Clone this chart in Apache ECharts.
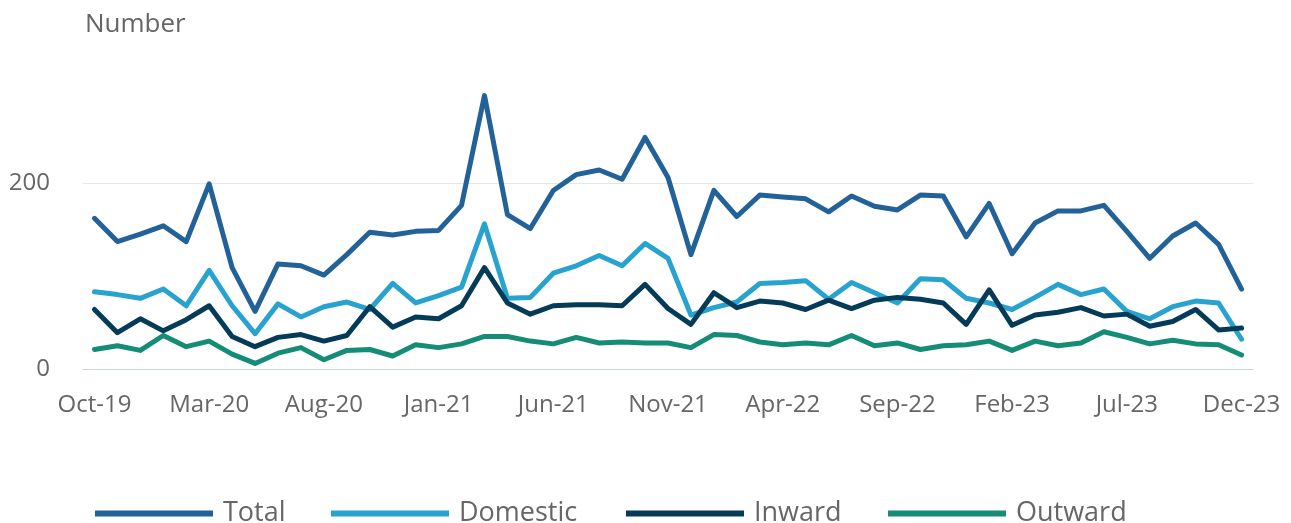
<!DOCTYPE html>
<html>
<head>
<meta charset="utf-8">
<script src="https://cdn.jsdelivr.net/npm/echarts@6/dist/echarts.min.js"></script>
<style>
html,body{margin:0;padding:0;background:#fff;}
#chart{width:1291px;height:523px;}
</style>
</head>
<body>
<div id="chart"></div>
<script>
const categories = ["Oct-19","Nov-19","Dec-19","Jan-20","Feb-20","Mar-20","Apr-20","May-20","Jun-20","Jul-20","Aug-20","Sep-20","Oct-20","Nov-20","Dec-20","Jan-21","Feb-21","Mar-21","Apr-21","May-21","Jun-21","Jul-21","Aug-21","Sep-21","Oct-21","Nov-21","Dec-21","Jan-22","Feb-22","Mar-22","Apr-22","May-22","Jun-22","Jul-22","Aug-22","Sep-22","Oct-22","Nov-22","Dec-22","Jan-23","Feb-23","Mar-23","Apr-23","May-23","Jun-23","Jul-23","Aug-23","Sep-23","Oct-23","Nov-23","Dec-23"];

const total    = [162,137,145,154,137,199,109,62,113,111,101,123,147,144,148,149,176,294,166,151,192,209,214,204,249,206,123,192,164,187,185,183,169,186,175,171,187,186,142,178,124,157,170,170,176,148,119,143,157,134,86];
const domestic = [83,80,76,86,68,106,68,38,70,56,67,72,64,92,71,79,88,156,76,77,103,111,122,111,135,119,58,66,72,92,93,95,75,93,82,71,97,96,76,71,64,77,91,80,86,62,54,67,73,71,32];
const inward   = [64,39,54,41,53,68,35,24,34,37,30,36,67,45,56,54,68,109,71,59,68,69,69,68,91,65,48,82,66,73,71,64,74,65,74,77,75,71,48,85,47,58,61,66,57,59,46,51,64,42,44];
const outward  = [21,25,20,36,24,30,16,6,17,23,10,20,21,14,26,23,27,35,35,30,27,34,28,29,28,28,23,37,36,29,26,28,26,36,25,28,21,25,26,30,20,30,25,28,40,34,27,31,27,26,15];

const seriesNames = ["Total","Domestic","Inward","Outward"];
const seriesColors = ["#236299","#28a3d0","#043b58","#158c76"];
const seriesData = [total, domestic, inward, outward];
const legendLeft = [95, 331, 626, 888];

const chart = echarts.init(document.getElementById('chart'), null, {renderer:'canvas'});
const FONT = "'Open Sans', 'Noto Sans', sans-serif";

chart.setOption({
  animation: false,
  backgroundColor: '#ffffff',
  graphic: [{
    type: 'text', left: 85, top: 12,
    style: { text: 'Number', fill: '#666666', font: "26px 'Open Sans', sans-serif" }
  }],
  grid: { left: 83, right: 38, top: 90, bottom: 154, containLabel: false },
  legend: seriesNames.map((n, i) => ({
    left: legendLeft[i], top: 500, padding: 0,
    icon: 'rect', itemWidth: 118, itemHeight: 6,
    textStyle: { color: '#666666', fontSize: 27, fontFamily: FONT, padding: [0,0,0,5] },
    data: [n]
  })),
  xAxis: {
    type: 'category',
    data: categories,
    boundaryGap: true,
    axisLine: { lineStyle: { color: '#ccd6eb', width: 1 } },
    axisTick: { alignWithLabel: true, interval: 4, length: 20, lineStyle: { color: '#ccd6eb' } },
    axisLabel: { interval: 4, color: '#666666', fontSize: 24, fontFamily: FONT, margin: 24 },
    splitLine: { show: false }
  },
  yAxis: {
    type: 'value',
    min: 0, max: 300, interval: 200,
    axisLine: { show: false },
    axisTick: { show: false },
    axisLabel: { color: '#666666', fontSize: 24, fontFamily: FONT, margin: 33, showMaxLabel: false },
    splitLine: { showMaxLine: false, lineStyle: { color: '#e6e6e6', width: 1 } }
  },
  series: seriesNames.map((n, i) => ({
    name: n,
    type: 'line',
    data: seriesData[i],
    symbol: 'none',
    showSymbol: false,
    color: seriesColors[i],
    lineStyle: { width: 5, color: seriesColors[i], join: 'round', cap: 'round' },
    emphasis: { disabled: true }
  }))
});
</script>
</body>
</html>
